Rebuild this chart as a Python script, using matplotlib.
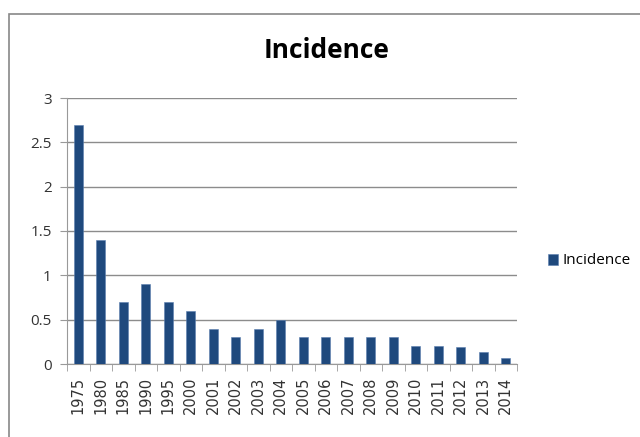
import numpy as np
import matplotlib
matplotlib.use("Agg")
import matplotlib.pyplot as plt
from matplotlib.patches import Rectangle

years = ["1975", "1980", "1985", "1990", "1995", "2000", "2001", "2002", "2003", "2004",
         "2005", "2006", "2007", "2008", "2009", "2010", "2011", "2012", "2013", "2014"]
incidence = [2.7, 1.4, 0.7, 0.9, 0.7, 0.6, 0.4, 0.3, 0.4, 0.5,
             0.3, 0.3, 0.3, 0.3, 0.3, 0.2, 0.2, 0.19, 0.14, 0.07]
yticks = [0, 0.5, 1, 1.5, 2, 2.5, 3]
ylabels = ["0", "0.5", "1", "1.5", "2", "2.5", "3"]

plt.rcParams['font.family'] = ['Open Sans', 'DejaVu Sans']

fig = plt.figure(figsize=(6.4, 4.37), dpi=100)
ax = fig.add_axes([67/640, 1-364/437, 450/640, 266/437])

x = np.arange(len(years))
ax.bar(x, incidence, width=0.39, color='#1F497D', edgecolor='#5a7fb0', linewidth=0.4,
       label='Incidence', zorder=3)

ax.set_xlim(-0.5, len(years)-0.5)
ax.set_ylim(0, 3)
ax.set_yticks(yticks)
ax.set_yticklabels(ylabels, fontsize=11, color='#333333')
ax.set_xticks(x)
ax.set_xticklabels(years, rotation=90, fontsize=10.5, color='#333333', family='DejaVu Sans')
ax.set_xticks(np.arange(-0.5, len(years), 1), minor=True)
ax.tick_params(axis='x', which='major', length=0, pad=9)
ax.tick_params(axis='x', which='minor', length=5, color='#999999', direction='out')
ax.tick_params(axis='y', length=5, color='#999999', direction='out', pad=6)

ax.grid(axis='y', color='#8c8c8c', linewidth=1, zorder=0)
for s in ['top', 'right']:
    ax.spines[s].set_visible(False)
ax.spines['left'].set_color('#999999')
ax.spines['bottom'].set_color('#999999')

fig.text(0.511, 1-50/437, 'Incidence', ha='center', va='center', fontsize=19,
         fontweight='bold', color='black')

fig.legend(loc='center left', bbox_to_anchor=(540/640, 1-261/437), frameon=False,
           handlelength=0.7, handleheight=0.7, handletextpad=0.3, borderpad=0,
           fontsize=11)

fig.patches.append(Rectangle((9/640, -0.05), 1.1, 0.05 + (1-14/437), transform=fig.transFigure,
                             fill=False, edgecolor='#888888', linewidth=1.2))

plt.savefig("out.png", dpi=100)
